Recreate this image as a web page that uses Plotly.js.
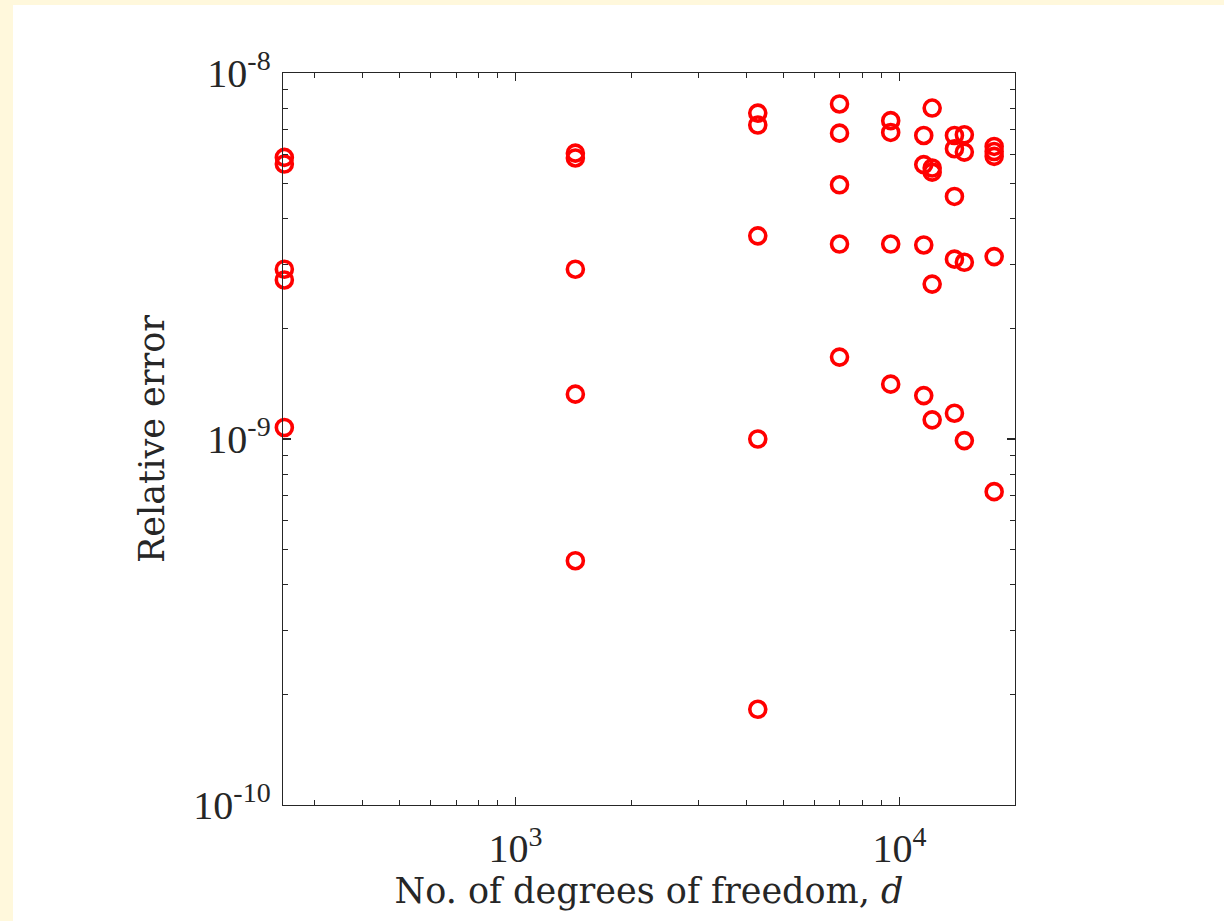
<!DOCTYPE html>
<html>
<head>
<meta charset="utf-8">
<script src="https://cdn.plot.ly/plotly-3.0.1.min.js"></script>
<style>
  html, body { margin: 0; padding: 0; background: #fff8dc; width: 1224px; height: 921px; overflow: hidden; }
  #chart { position: absolute; left: 13px; top: 5px; width: 1211px; height: 916px; background: #ffffff; }
</style>
</head>
<body>
<div id="chart"></div>
<script>
// Degrees of freedom (x) and relative errors (y)
const dofColumns = [250, 1432, 4276, 6982, 9490, 11570, 12170, 13910, 14760, 17650];
const col1 = [5.88e-9, 5.64e-9, 2.91e-9, 2.72e-9, 1.075e-9];
const col2 = [6.04e-9, 5.86e-9, 2.91e-9, 1.326e-9, 4.65e-10];
const col3 = [7.77e-9, 7.21e-9, 3.59e-9, 1.0e-9, 1.826e-10];
const col4 = [8.23e-9, 6.85e-9, 4.95e-9, 3.41e-9, 1.674e-9];
const col5 = [7.41e-9, 6.88e-9, 3.41e-9, 1.412e-9];
const col6 = [6.75e-9, 5.62e-9, 3.39e-9, 1.314e-9];
const col7 = [8.02e-9, 5.50e-9, 5.36e-9, 2.65e-9, 1.128e-9];
const col8 = [6.75e-9, 6.21e-9, 4.60e-9, 3.10e-9, 1.176e-9];
const col9 = [6.78e-9, 6.08e-9, 3.04e-9, 9.90e-10];
const col10 = [6.30e-9, 6.10e-9, 5.92e-9, 3.15e-9, 7.18e-10];
const errorColumns = [col1, col2, col3, col4, col5, col6, col7, col8, col9, col10];

const xTickVals = [1000, 10000];
const xTickText = ['10<sup>3</sup>', '10<sup>4</sup>'];
const yTickVals = [1e-10, 1e-9, 1e-8];
const yTickText = ['10<sup>-10</sup>', '10<sup>-9</sup>', '10<sup>-8</sup>'];

const xs = [], ys = [];
errorColumns.forEach((col, i) => col.forEach(v => { xs.push(dofColumns[i]); ys.push(v); }));

const axisColor = '#262626';
const tickFamily = '"Liberation Serif", "Times New Roman", serif';
const titleFamily = '"DejaVu Serif", "Liberation Serif", serif';

const trace = {
  type: 'scatter',
  mode: 'markers',
  x: xs,
  y: ys,
  marker: { symbol: 'circle-open', size: 16, color: '#ff0000', line: { width: 3.6, color: '#ff0000' } },
  cliponaxis: false,
  hoverinfo: 'x+y'
};

const layout = {
  width: 1211,
  height: 916,
  paper_bgcolor: '#ffffff',
  plot_bgcolor: '#ffffff',
  showlegend: false,
  font: { family: titleFamily, color: axisColor, size: 35 },
  margin: { l: 270, r: 209, t: 68, b: 116, pad: 0 },
  xaxis: {
    type: 'log',
    range: [Math.log10(248), Math.log10(20000)],
    tickmode: 'array',
    tickvals: xTickVals,
    ticktext: xTickText,
    ticks: 'inside',
    ticklen: 8,
    tickwidth: 1.3,
    tickcolor: axisColor,
    showline: true,
    linecolor: axisColor,
    linewidth: 1.3,
    mirror: 'allticks',
    showgrid: false,
    zeroline: false,
    tickfont: { size: 40, family: tickFamily, color: axisColor },
    ticklabelstandoff: 8,
    minor: { ticks: 'inside', ticklen: 5, tickwidth: 1, tickcolor: axisColor, dtick: 'D1', showgrid: false },
    title: { text: 'No. of degrees of freedom, <i>d</i>', font: { size: 35, family: titleFamily, color: axisColor }, standoff: 2 }
  },
  yaxis: {
    type: 'log',
    range: [-10, -8],
    tickmode: 'array',
    tickvals: yTickVals,
    ticktext: yTickText,
    ticks: 'inside',
    ticklen: 8,
    tickwidth: 1.3,
    tickcolor: axisColor,
    showline: true,
    linecolor: axisColor,
    linewidth: 1.3,
    mirror: 'allticks',
    showgrid: false,
    zeroline: false,
    tickfont: { size: 40, family: tickFamily, color: axisColor },
    ticklabelstandoff: 3,
    minor: { ticks: 'inside', ticklen: 5, tickwidth: 1, tickcolor: axisColor, dtick: 'D1', showgrid: false },
    title: { text: 'Relative error', font: { size: 35, family: titleFamily, color: axisColor }, standoff: 18 }
  }
};

Plotly.newPlot('chart', [trace], layout, { displayModeBar: false, staticPlot: true });
</script>
</body>
</html>
